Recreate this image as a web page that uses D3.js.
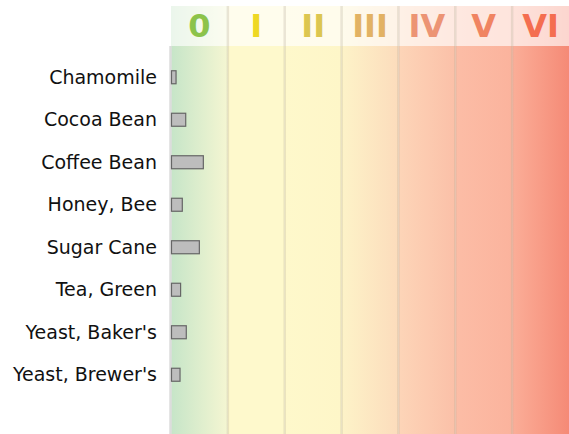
<!DOCTYPE html>
<html>
<head>
<meta charset="utf-8">
<script src="https://cdn.jsdelivr.net/npm/d3@7"></script>
<style>
  body { margin: 0; background: #fff; }
  text { font-family: "DejaVu Sans", sans-serif; }
</style>
</head>
<body>
<script>
// chart data
var foods = ["Chamomile", "Cocoa Bean", "Coffee Bean", "Honey, Bee",
             "Sugar Cane", "Tea, Green", "Yeast, Baker's", "Yeast, Brewer's"];
var values = [0.08, 0.25, 0.56, 0.19, 0.49, 0.16, 0.26, 0.15];
var levels = ["0", "I", "II", "III", "IV", "V", "VI"];

// column colours (gradient start / end) and header label colours
var colStart = ["#c6e5c8", "#fef9cc", "#fef8cb", "#fdf3c8", "#fdd5b8", "#fcbda6", "#fbae98"];
var colEnd   = ["#f5f6d2", "#fef9cc", "#fef6c8", "#fcdcbc", "#fbc0a8", "#fbb39d", "#f58a76"];
var labelColor = ["#8cc34b", "#eed824", "#dcc650", "#e2b264", "#ec9474", "#f08462", "#f46e50"];

var width = 569, height = 434;
var plotLeft = 171, plotRight = 569;
var headTop = 6, headBottom = 46;

var svg = d3.select("body").append("svg")
    .attr("width", width)
    .attr("height", height);

// set the ranges
var x = d3.scaleLinear()
          .domain([0, levels.length])
          .range([plotLeft, plotRight]);
var col = d3.scaleBand()
          .domain(levels)
          .range([plotLeft, plotRight]);
var y = d3.scaleBand()
          .domain(foods)
          .range([56, 396]);

// gradients for each column
var defs = svg.append("defs");
levels.forEach(function(l, i) {
  var g = defs.append("linearGradient")
      .attr("id", "grad" + i)
      .attr("x1", "0%").attr("x2", "100%")
      .attr("y1", "0%").attr("y2", "0%");
  g.append("stop").attr("offset", "0%").attr("stop-color", colStart[i]);
  g.append("stop").attr("offset", "100%").attr("stop-color", colEnd[i]);
});

// body columns
svg.selectAll(".col")
    .data(levels)
  .enter().append("rect")
    .attr("class", "col")
    .attr("x", function(d) { return col(d); })
    .attr("y", headTop)
    .attr("width", col.bandwidth())
    .attr("height", height - headTop)
    .attr("fill", function(d, i) { return "url(#grad" + i + ")"; });

// header overlay
svg.append("rect")
    .attr("x", plotLeft)
    .attr("y", headTop)
    .attr("width", plotRight - plotLeft)
    .attr("height", headBottom - headTop)
    .attr("fill", "#fff")
    .attr("opacity", 0.65);

// column separators
svg.selectAll(".sep")
    .data(levels.slice(1))
  .enter().append("line")
    .attr("class", "sep")
    .attr("x1", function(d) { return col(d); })
    .attr("x2", function(d) { return col(d); })
    .attr("y1", headTop)
    .attr("y2", height)
    .attr("stroke", "#b8ae98")
    .attr("stroke-opacity", 0.3)
    .attr("stroke-width", 2.5);

// left edge
svg.append("line")
    .attr("x1", plotLeft - 0.5).attr("x2", plotLeft - 0.5)
    .attr("y1", headBottom).attr("y2", height)
    .attr("stroke", "#dcdcdc")
    .attr("stroke-width", 2.5);

// header labels
svg.selectAll(".lvl")
    .data(levels)
  .enter().append("text")
    .attr("class", "lvl")
    .attr("x", function(d) { return col(d) + col.bandwidth() / 2; })
    .attr("y", 37)
    .attr("text-anchor", "middle")
    .attr("font-weight", "bold")
    .attr("font-size", 32)
    .attr("fill", function(d, i) { return labelColor[i]; })
    .text(function(d) { return d; });

// bars
var barH = 13;
svg.selectAll(".bar")
    .data(foods)
  .enter().append("rect")
    .attr("class", "bar")
    .attr("x", x(0) + 0.5)
    .attr("y", function(d) { return y(d) + y.bandwidth() / 2 - barH / 2; })
    .attr("width", function(d, i) { return x(values[i]) - x(0); })
    .attr("height", barH)
    .attr("fill", "#bdbdbd")
    .attr("stroke", "#666")
    .attr("stroke-width", 1.2);

// category labels
svg.selectAll(".cat")
    .data(foods)
  .enter().append("text")
    .attr("class", "cat")
    .attr("x", 157)
    .attr("y", function(d) { return y(d) + y.bandwidth() / 2; })
    .attr("dy", "0.35em")
    .attr("text-anchor", "end")
    .attr("font-size", 19)
    .attr("fill", "#111")
    .text(function(d) { return d; });
</script>
</body>
</html>
